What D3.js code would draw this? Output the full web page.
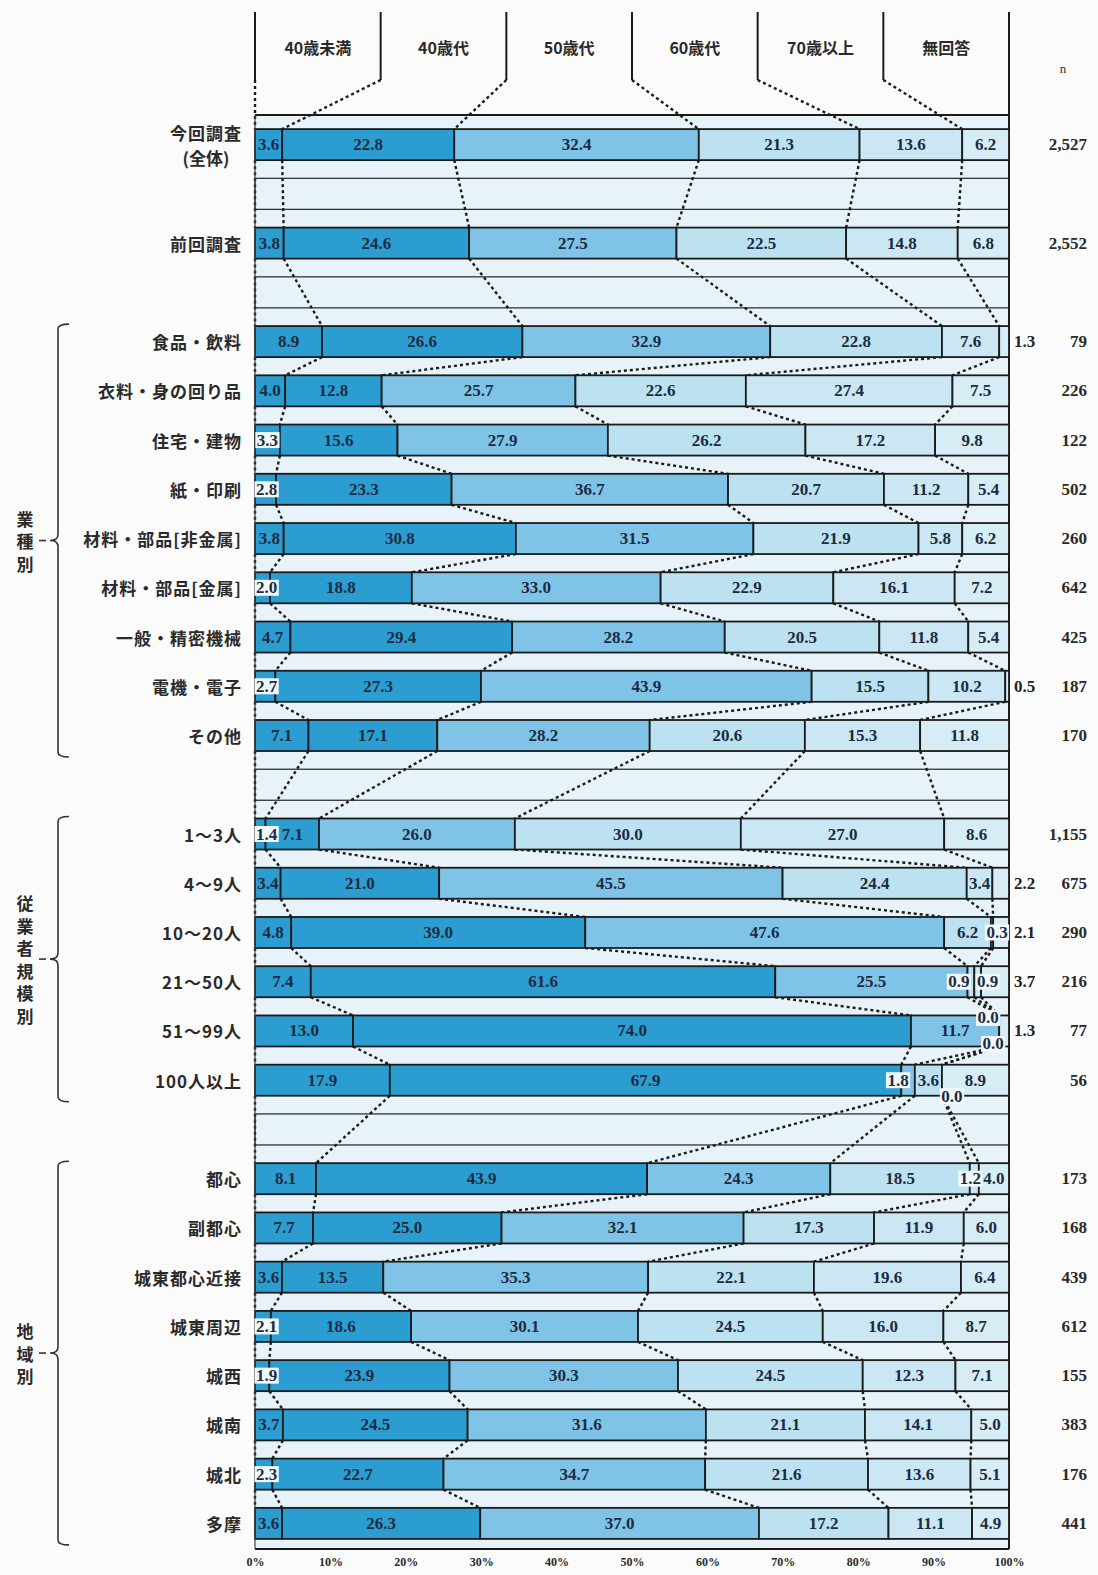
<!DOCTYPE html>
<html>
<head>
<meta charset="utf-8">
<script src="https://cdn.jsdelivr.net/npm/d3@7"></script>
<style>
  html, body { margin: 0; padding: 0; background: #fbfbfb; }
  svg { display: block; }
</style>
</head>
<body>
<svg id="chart" width="1098" height="1575"></svg>
<script>
// ---- data -------------------------------------------------------------
const ageGroups = ["40歳未満", "40歳代", "50歳代", "60歳代", "70歳以上", "無回答"];

const rowLabels = [
  "今回調査\n(全体)", "前回調査",
  "食品・飲料", "衣料・身の回り品", "住宅・建物", "紙・印刷", "材料・部品[非金属]",
  "材料・部品[金属]", "一般・精密機械", "電機・電子", "その他",
  "1～3人", "4～9人", "10～20人", "21～50人", "51～99人", "100人以上",
  "都心", "副都心", "城東都心近接", "城東周辺", "城西", "城南", "城北", "多摩"
];

// section of each row (a blank slot separates sections)
const rowSection = [0, 1, 2, 2, 2, 2, 2, 2, 2, 2, 2, 3, 3, 3, 3, 3, 3, 4, 4, 4, 4, 4, 4, 4, 4];
const sectionNames = ["", "", "業種別", "従業者規模別", "地域別"];

// percentage shares by age group (%), one array per row
const shares = [
  [3.6, 22.8, 32.4, 21.3, 13.6, 6.2],
  [3.8, 24.6, 27.5, 22.5, 14.8, 6.8],
  [8.9, 26.6, 32.9, 22.8, 7.6, 1.3],
  [4.0, 12.8, 25.7, 22.6, 27.4, 7.5],
  [3.3, 15.6, 27.9, 26.2, 17.2, 9.8],
  [2.8, 23.3, 36.7, 20.7, 11.2, 5.4],
  [3.8, 30.8, 31.5, 21.9, 5.8, 6.2],
  [2.0, 18.8, 33.0, 22.9, 16.1, 7.2],
  [4.7, 29.4, 28.2, 20.5, 11.8, 5.4],
  [2.7, 27.3, 43.9, 15.5, 10.2, 0.5],
  [7.1, 17.1, 28.2, 20.6, 15.3, 11.8],
  [1.4, 7.1, 26.0, 30.0, 27.0, 8.6],
  [3.4, 21.0, 45.5, 24.4, 3.4, 2.2],
  [4.8, 39.0, 47.6, 6.2, 0.3, 2.1],
  [7.4, 61.6, 25.5, 0.9, 0.9, 3.7],
  [13.0, 74.0, 11.7, 0.0, 0.0, 1.3],
  [17.9, 67.9, 1.8, 3.6, 0.0, 8.9],
  [8.1, 43.9, 24.3, 18.5, 1.2, 4.0],
  [7.7, 25.0, 32.1, 17.3, 11.9, 6.0],
  [3.6, 13.5, 35.3, 22.1, 19.6, 6.4],
  [2.1, 18.6, 30.1, 24.5, 16.0, 8.7],
  [1.9, 23.9, 30.3, 24.5, 12.3, 7.1],
  [3.7, 24.5, 31.6, 21.1, 14.1, 5.0],
  [2.3, 22.7, 34.7, 21.6, 13.6, 5.1],
  [3.6, 26.3, 37.0, 17.2, 11.1, 4.9]
];

const respondents = [
  "2,527", "2,552", "79", "226", "122", "502", "260", "642", "425", "187", "170",
  "1,155", "675", "290", "216", "77", "56",
  "173", "168", "439", "612", "155", "383", "176", "441"
];

const tickValues = [0, 0.1, 0.2, 0.3, 0.4, 0.5, 0.6, 0.7, 0.8, 0.9, 1];
const tickLabels = ["0%", "10%", "20%", "30%", "40%", "50%", "60%", "70%", "80%", "90%", "100%"];

// ---- layout & style ---------------------------------------------------
const W = 1098, H = 1575;
const X0 = 255, X1 = 1009;
const FRAME_TOP = 115, FRAME_BOTTOM = 1549;
const HEAD_TOP = 12, HEAD_BOTTOM = 80;
const colors = ["#2c9dd0", "#2c9dd0", "#7fc4e6", "#bce1f1", "#cae7f3", "#d6edf6"];
const plotBg = "#e7f3f8";
const ink = "#1b1b1b";
const numFont = "'Liberation Serif', 'DejaVu Serif', serif";
const jpFont = "'Noto Sans CJK JP', 'Noto Sans', sans-serif";

// small offsets for labels of very thin segments (row-segment -> [dx, dy])
const labelNudges = {
  "13-4": [5, 0],
  "14-3": [-12, 0], "14-4": [10, 0],
  "15-3": [-11, -13], "15-4": [-6, 13],
  "16-2": [-10, 0], "16-4": [10, 16],
  "17-4": [-4, 0]
};

const svg = d3.select("#chart");
svg.append("rect").attr("width", W).attr("height", H).attr("fill", "#fbfbfb");

// ---- scales -----------------------------------------------------------
const slots = [];
rowLabels.forEach((lab, i) => {
  if (i > 0 && rowSection[i] !== rowSection[i - 1]) slots.push({ id: "gap" + i, blank: true });
  slots.push({ id: "row" + i, blank: false, row: i });
});

const y = d3.scaleBand()
  .domain(slots.map(s => s.id))
  .range([120, 1548])
  .paddingInner(0.37)
  .paddingOuter(0.185);
const bw = y.bandwidth();

const x = d3.scaleLinear().domain([0, 1]).range([X0, X1]);

const series = d3.stack()
  .keys(d3.range(ageGroups.length))
  .offset(d3.stackOffsetExpand)(shares);

// ---- plot background & blank slots -------------------------------------
svg.append("rect")
  .attr("x", X0).attr("y", FRAME_TOP)
  .attr("width", X1 - X0).attr("height", FRAME_BOTTOM - FRAME_TOP)
  .attr("fill", plotBg);

svg.append("g").selectAll("rect")
  .data(slots.filter(s => s.blank))
  .join("rect")
  .attr("x", X0).attr("y", d => y(d.id))
  .attr("width", X1 - X0).attr("height", bw)
  .attr("fill", plotBg)
  .attr("stroke", "#333").attr("stroke-width", 1.3);

// ---- dotted connectors between consecutive bars ------------------------
const conn = svg.append("g")
  .attr("fill", "none").attr("stroke", ink)
  .attr("stroke-width", 2.4).attr("stroke-dasharray", "3,3");

for (let i = 0; i < shares.length - 1; i++) {
  const yb = y("row" + i) + bw, yt = y("row" + (i + 1));
  conn.append("line")
    .attr("x1", x(0)).attr("y1", yb).attr("x2", x(0)).attr("y2", yt);
  for (let k = 0; k < ageGroups.length - 1; k++) {
    conn.append("line")
      .attr("x1", x(series[k][i][1])).attr("y1", yb)
      .attr("x2", x(series[k][i + 1][1])).attr("y2", yt);
  }
}

// ---- header (legend columns) -------------------------------------------
const colW = (X1 - X0) / ageGroups.length;
const head = svg.append("g");
for (let k = 0; k <= ageGroups.length; k++) {
  const hx = X0 + k * colW;
  head.append("line")
    .attr("x1", hx).attr("x2", hx)
    .attr("y1", HEAD_TOP).attr("y2", k === ageGroups.length ? FRAME_BOTTOM : HEAD_BOTTOM)
    .attr("stroke", ink).attr("stroke-width", 2);
}
// header -> first bar connectors
conn.append("line")
  .attr("x1", X0).attr("y1", HEAD_BOTTOM).attr("x2", X0).attr("y2", y("row0"));
for (let k = 0; k < ageGroups.length - 1; k++) {
  conn.append("line")
    .attr("x1", X0 + (k + 1) * colW).attr("y1", HEAD_BOTTOM)
    .attr("x2", x(series[k][0][1])).attr("y2", y("row0"));
}
head.selectAll("text")
  .data(ageGroups)
  .join("text")
  .attr("x", (d, k) => X0 + (k + 0.5) * colW)
  .attr("y", 47)
  .attr("text-anchor", "middle")
  .attr("dominant-baseline", "central")
  .attr("font-family", jpFont).attr("font-weight", 700)
  .attr("font-size", 16).attr("fill", "#2a2a2a")
  .text(d => d);

svg.append("text")
  .attr("x", 1063).attr("y", 68)
  .attr("text-anchor", "middle").attr("dominant-baseline", "central")
  .attr("font-family", numFont).attr("font-size", 13).attr("fill", "#333")
  .text("n");

// ---- bars ----------------------------------------------------------------
svg.append("g").selectAll("g")
  .data(series)
  .join("g")
  .attr("fill", (d, k) => colors[k])
  .selectAll("rect")
  .data(d => d.map((seg, i) => ({ seg, i })))
  .join("rect")
  .attr("x", d => x(d.seg[0]))
  .attr("y", d => y("row" + d.i))
  .attr("width", d => Math.max(0, x(d.seg[1]) - x(d.seg[0])))
  .attr("height", bw)
  .attr("stroke", ink).attr("stroke-width", 1.8);

// ---- frame -------------------------------------------------------------
svg.append("line").attr("x1", X0).attr("x2", X1).attr("y1", FRAME_TOP).attr("y2", FRAME_TOP)
  .attr("stroke", ink).attr("stroke-width", 2.2);
svg.append("line").attr("x1", X0).attr("x2", X1).attr("y1", FRAME_BOTTOM).attr("y2", FRAME_BOTTOM)
  .attr("stroke", ink).attr("stroke-width", 2.2);
svg.append("line").attr("x1", X0).attr("x2", X0).attr("y1", FRAME_TOP).attr("y2", FRAME_BOTTOM)
  .attr("stroke", "#444").attr("stroke-width", 1.2);

// ---- value labels ------------------------------------------------------
const labelG = svg.append("g")
  .attr("font-family", numFont).attr("font-weight", 700).attr("font-size", 17);

shares.forEach((row, i) => {
  const cy = y("row" + i) + bw / 2;
  row.forEach((v, k) => {
    const a = series[k][i][0], b = series[k][i][1];
    const x0 = x(a), x1 = x(b), segW = x1 - x0;
    const txt = v.toFixed(1);
    if (k === ageGroups.length - 1 && v < 4) {
      labelG.append("text")
        .attr("x", X1 + 5).attr("y", cy)
        .attr("dominant-baseline", "central")
        .attr("fill", "#222")
        .text(txt);
      return;
    }
    let cx = (x0 + x1) / 2, ty = cy;
    const nd = labelNudges[i + "-" + k];
    if (nd) { cx += nd[0]; ty += nd[1]; }
    const t = labelG.append("text")
      .attr("y", ty)
      .attr("text-anchor", "middle")
      .attr("dominant-baseline", "central")
      .attr("fill", "#1c2b42")
      .text(txt);
    const w = t.node().getComputedTextLength();
    if (cx - w / 2 < X0 + 1) cx = X0 + 1 + w / 2;
    t.attr("x", cx);
    if (w + 4 > segW) {
      labelG.insert("rect", () => t.node())
        .attr("x", cx - w / 2 - 1.5).attr("y", ty - 8)
        .attr("width", w + 3).attr("height", 16)
        .attr("fill", "#f1f8fb");
    }
  });
});

// ---- respondent counts -------------------------------------------------
svg.append("g").selectAll("text")
  .data(respondents)
  .join("text")
  .attr("x", 1087)
  .attr("y", (d, i) => y("row" + i) + bw / 2)
  .attr("text-anchor", "end")
  .attr("dominant-baseline", "central")
  .attr("font-family", numFont).attr("font-weight", 700)
  .attr("font-size", 17).attr("fill", "#2a2a2a")
  .text(d => d);

// ---- category labels ---------------------------------------------------
const catG = svg.append("g")
  .attr("font-family", jpFont).attr("font-weight", 700)
  .attr("font-size", 17).attr("fill", "#2a2a2a");

rowLabels.forEach((lab, i) => {
  const cy = y("row" + i) + bw / 2;
  const lines = lab.split("\n");
  if (lines.length === 1) {
    catG.append("text")
      .attr("x", 242).attr("y", cy)
      .attr("text-anchor", "end").attr("dominant-baseline", "central")
      .attr("letter-spacing", 1)
      .text(lab);
  } else {
    const t1 = catG.append("text")
      .attr("x", 242).attr("y", cy - 12)
      .attr("text-anchor", "end").attr("dominant-baseline", "central")
      .attr("letter-spacing", 1)
      .text(lines[0]);
    const w1 = t1.node().getComputedTextLength();
    catG.append("text")
      .attr("x", 242 - w1 / 2).attr("y", cy + 13)
      .attr("text-anchor", "middle").attr("dominant-baseline", "central")
      .text(lines[1]);
  }
});

// ---- section braces & vertical titles ----------------------------------
const braceG = svg.append("g");
[2, 3, 4].forEach(sec => {
  const idx = rowSection.map((s, i) => s === sec ? i : -1).filter(i => i >= 0);
  const y0 = y("row" + idx[0]) - 2;
  const y1 = y("row" + idx[idx.length - 1]) + bw + 6;
  const ym = (y0 + y1) / 2;
  const xv = 58, xh = 69, xt = 50;
  const p = d3.path();
  p.moveTo(xh, y0);
  p.quadraticCurveTo(xv, y0, xv, y0 + 5);
  p.lineTo(xv, ym - 6);
  p.quadraticCurveTo(xv, ym, xt, ym);
  p.quadraticCurveTo(xv, ym, xv, ym + 6);
  p.lineTo(xv, y1 - 5);
  p.quadraticCurveTo(xv, y1, xh, y1);
  braceG.append("path").attr("d", p.toString())
    .attr("fill", "none").attr("stroke", "#333").attr("stroke-width", 1.6);
  braceG.append("line")
    .attr("x1", 39).attr("x2", 46).attr("y1", ym).attr("y2", ym)
    .attr("stroke", "#333").attr("stroke-width", 1.6);

  const chars = Array.from(sectionNames[sec]);
  const pitch = 22.5;
  chars.forEach((c, j) => {
    braceG.append("text")
      .attr("x", 25)
      .attr("y", ym + (j - (chars.length - 1) / 2) * pitch)
      .attr("text-anchor", "middle").attr("dominant-baseline", "central")
      .attr("font-family", jpFont).attr("font-weight", 700)
      .attr("font-size", 17).attr("fill", "#2a2a2a")
      .text(c);
  });
});

// ---- x axis tick labels ------------------------------------------------
const axis = d3.axisBottom(x)
  .tickValues(tickValues)
  .tickFormat((d, i) => tickLabels[i])
  .tickSize(0).tickPadding(0);
const axG = svg.append("g")
  .attr("transform", `translate(0, ${FRAME_BOTTOM + 8})`)
  .call(axis);
axG.select(".domain").remove();
axG.selectAll("text")
  .attr("font-family", numFont).attr("font-weight", 700)
  .attr("font-size", 12).attr("fill", "#2a2a2a");
</script>
</body>
</html>
